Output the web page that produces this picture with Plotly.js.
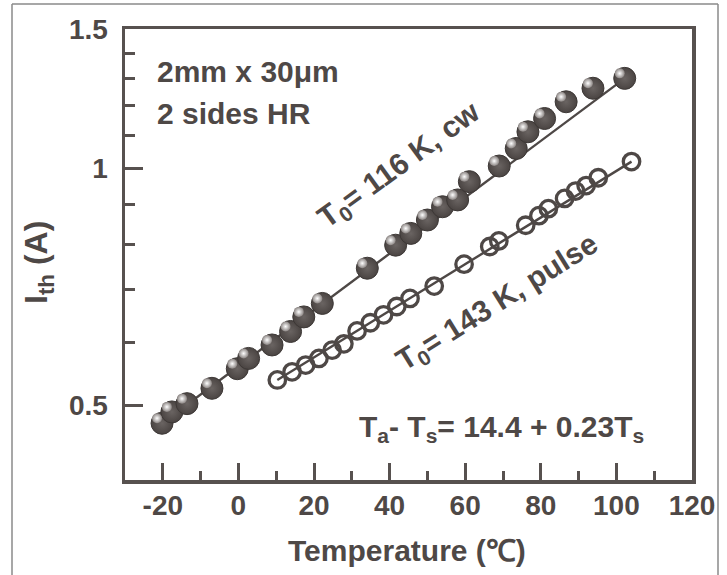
<!DOCTYPE html>
<html>
<head>
<meta charset="utf-8">
<script src="https://cdn.plot.ly/plotly-3.0.1.min.js"></script>
<style>
html,body{margin:0;padding:0;background:#fff;}
#chart{width:727px;height:575px;}
</style>
</head>
<body>
<div id="chart"></div>
<script>
// ---- data ----
const tempCw = [-20.2, -17.6, -13.6, -7.0, -0.3, 2.7, 8.9, 13.8, 17.3, 22.2, 34.1, 41.6, 45.6, 50.0, 54.0, 58.0, 61.1, 69.0, 73.5, 76.6, 81.0, 86.7, 93.8, 102.2];
const ithCw  = [0.474, 0.490, 0.502, 0.525, 0.556, 0.573, 0.596, 0.620, 0.647, 0.673, 0.746, 0.798, 0.826, 0.859, 0.893, 0.911, 0.961, 1.006, 1.059, 1.112, 1.156, 1.214, 1.263, 1.300];

const tempPulse = [10.3, 14.2, 17.8, 21.3, 24.8, 27.9, 31.4, 34.9, 38.4, 41.9, 45.4, 51.8, 59.7, 66.5, 68.9, 76.0, 79.5, 82.0, 86.3, 89.2, 92.0, 95.2, 104.0];
const ithPulse  = [0.538, 0.551, 0.562, 0.573, 0.587, 0.598, 0.621, 0.636, 0.651, 0.667, 0.683, 0.708, 0.755, 0.795, 0.808, 0.846, 0.870, 0.888, 0.915, 0.935, 0.950, 0.972, 1.019];

const fitCwT = [-20.2, 102.2];
const fitCwI = [0.474, 1.300];
const fitPulseT = [10.3, 104.0];
const fitPulseI = [0.538, 1.019];

const xTickVals = [-20, 0, 20, 40, 60, 80, 100, 120];
const xTickText = ['-20', '0', '20', '40', '60', '80', '100', '120'];
const xMinorVals = [-30, -10, 10, 30, 50, 70, 90, 110];
const yTickVals = [0.5, 1, 1.5];
const yTickText = ['0.5', '1', '1.5'];
const yMinorVals = [0.6, 0.7, 0.8, 0.9, 1.1, 1.2, 1.3, 1.4];

// ---- styling ----
const ink = '#4e4846';
const axisCol = '#57514f';
const ball = '#4a4442';
const FONT = 'Liberation Sans, Arial, sans-serif';
const bold = a => a.map(s => '<b>' + s + '</b>');

const L = 125, R = 692, T = 29, B = 480;
const px = v => (v - L) / (R - L);
const py = v => (B - v) / (B - T);

const xRange = [-30, 120];
const yRange = [Math.log10(0.4015), Math.log10(1.502)];
// highlight axes: same scales, shifted a few pixels up-left
const xPerPx = (xRange[1] - xRange[0]) / (R - L);
const yPerPx = (yRange[1] - yRange[0]) / (B - T);
const hx = 5, hy = 5;
const xRange2 = [xRange[0] + hx * xPerPx, xRange[1] + hx * xPerPx];
const yRange2 = [yRange[0] - hy * yPerPx, yRange[1] - hy * yPerPx];

const traces = [
  {x: fitCwT, y: fitCwI, mode: 'lines', line: {color: ink, width: 2.4}, hoverinfo: 'skip'},
  {x: fitPulseT, y: fitPulseI, mode: 'lines', line: {color: ink, width: 2.4}, hoverinfo: 'skip'},
  {x: tempPulse, y: ithPulse, mode: 'markers',
   marker: {symbol: 'circle-open', size: 16.5, color: ink, line: {color: ink, width: 3.3}}},
  {x: tempCw, y: ithCw, mode: 'markers',
   marker: {symbol: 'circle', size: 22, color: ball, gradient: {type: 'radial', color: '#6a6462'}, line: {color: '#3d3836', width: 1}}},
  {x: tempCw, y: ithCw, mode: 'markers', hoverinfo: 'skip', xaxis: 'x2', yaxis: 'y2',
   marker: {symbol: 'circle', size: 10, color: '#8a8482', gradient: {type: 'radial', color: '#ffffff'}, line: {width: 0}}}
];

const layout = {
  width: 727, height: 575,
  margin: {l: L, r: 727 - R, t: T, b: 575 - B, pad: 0},
  paper_bgcolor: '#fff', plot_bgcolor: 'rgba(0,0,0,0)',
  showlegend: false,
  font: {family: FONT, color: ink, size: 28},
  xaxis: {
    range: xRange, showgrid: false, zeroline: false,
    showline: true, mirror: true, linecolor: axisCol, linewidth: 3.5,
    ticks: 'inside', ticklen: 17, tickwidth: 3, tickcolor: axisCol,
    tickmode: 'array', tickvals: xTickVals, ticktext: bold(xTickText),
    tickfont: {family: FONT, size: 28, color: ink},
    ticklabelstandoff: -2,
    minor: {tickmode: 'array', tickvals: xMinorVals, ticks: 'inside', ticklen: 9, tickwidth: 3, tickcolor: axisCol, showgrid: false}
  },
  yaxis: {
    type: 'log', range: yRange,
    showgrid: false, zeroline: false,
    showline: true, mirror: true, linecolor: axisCol, linewidth: 3.5,
    ticks: 'inside', ticklen: 18, tickwidth: 3, tickcolor: axisCol,
    tickmode: 'array', tickvals: yTickVals, ticktext: bold(yTickText),
    tickfont: {family: FONT, size: 28, color: ink},
    ticklabelstandoff: 8,
    minor: {tickmode: 'array', tickvals: yMinorVals, ticks: 'inside', ticklen: 10, tickwidth: 3, tickcolor: axisCol, showgrid: false}
  },
  xaxis2: {overlaying: 'x', range: xRange2, visible: false, showgrid: false, zeroline: false},
  yaxis2: {overlaying: 'y', type: 'log', range: yRange2, visible: false, showgrid: false, zeroline: false},
  annotations: [
    {xref: 'paper', yref: 'paper', x: px(155), y: py(71), xanchor: 'left', yanchor: 'middle', showarrow: false,
     text: '<b>2mm x 30μm</b>', font: {family: FONT, size: 30, color: ink}},
    {xref: 'paper', yref: 'paper', x: px(155), y: py(113), xanchor: 'left', yanchor: 'middle', showarrow: false,
     text: '<b>2 sides HR</b>', font: {family: FONT, size: 30, color: ink}},
    {xref: 'paper', yref: 'paper', x: px(400), y: py(166), xanchor: 'center', yanchor: 'middle', showarrow: false,
     textangle: -36, text: '<b>T<sub>0</sub>= 116 K, cw</b>', font: {family: FONT, size: 30, color: ink}},
    {xref: 'paper', yref: 'paper', x: px(497), y: py(303), xanchor: 'center', yanchor: 'middle', showarrow: false,
     textangle: -32, text: '<b>T<sub>0</sub>= 143 K, pulse</b>', font: {family: FONT, size: 30, color: ink}},
    {xref: 'paper', yref: 'paper', x: px(501), y: py(428), xanchor: 'center', yanchor: 'middle', showarrow: false,
     text: '<b>T<sub>a</sub>- T<sub>s</sub>= 14.4 + 0.23T<sub>s</sub></b>', font: {family: FONT, size: 30, color: ink}},
    {xref: 'paper', yref: 'paper', x: px(38), y: py(263), xanchor: 'center', yanchor: 'middle', showarrow: false,
     textangle: -90, text: '<b>I<sub>th</sub> (A)</b>', font: {family: FONT, size: 32, color: ink}},
    {xref: 'paper', yref: 'paper', x: px(407), y: py(550), xanchor: 'center', yanchor: 'middle', showarrow: false,
     text: '<b>Temperature (℃)</b>', font: {family: FONT, size: 30, color: ink}}
  ],
  shapes: [
    {type: 'line', xref: 'paper', yref: 'paper', x0: px(12), x1: px(12), y0: py(4), y1: py(600), line: {color: '#8a8a8a', width: 1.5}},
    {type: 'line', xref: 'paper', yref: 'paper', x0: px(12), x1: px(718), y0: py(4), y1: py(4), line: {color: '#8a8a8a', width: 1.5}},
    {type: 'line', xref: 'paper', yref: 'paper', x0: px(718), x1: px(718), y0: py(4), y1: py(600), line: {color: '#8a8a8a', width: 1.5}}
  ]
};

Plotly.newPlot('chart', traces, layout, {displayModeBar: false, staticPlot: true});
</script>
</body>
</html>
